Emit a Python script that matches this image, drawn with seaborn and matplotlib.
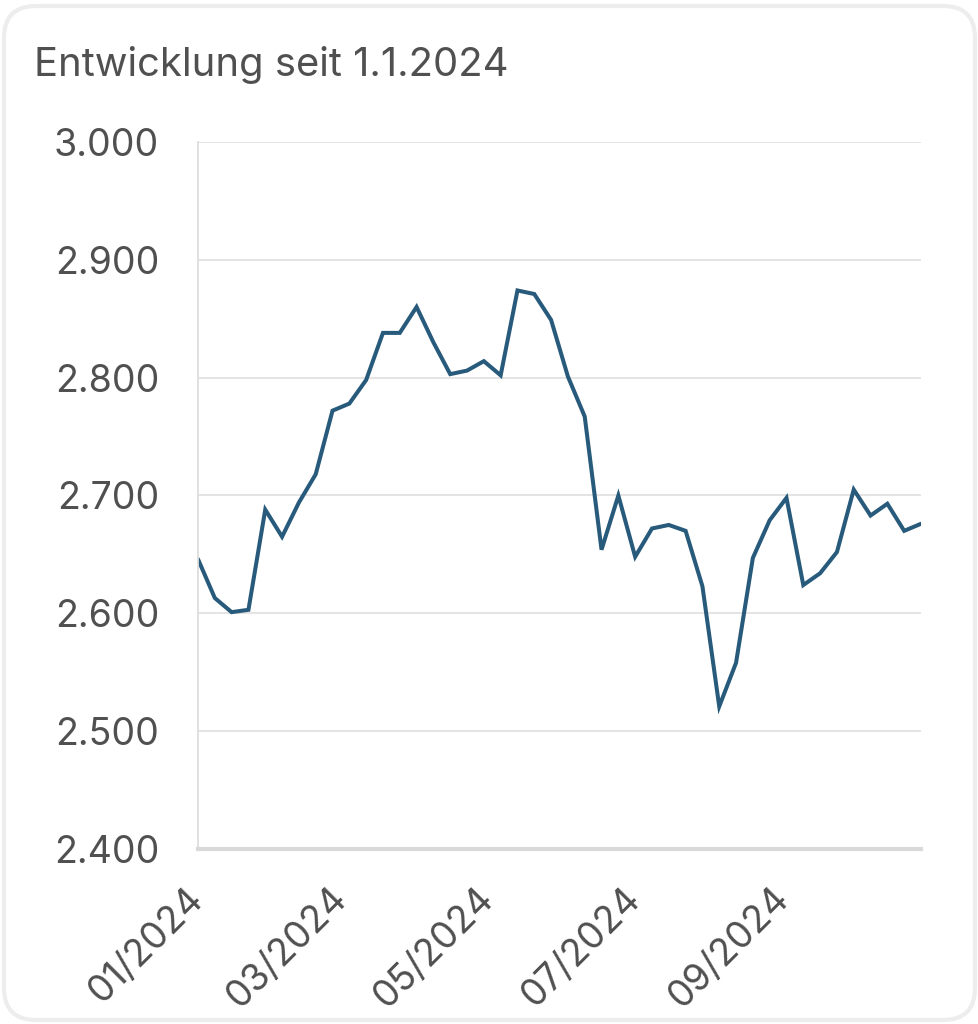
import matplotlib
matplotlib.use("Agg")
import matplotlib.pyplot as plt
import matplotlib.dates as mdates
from matplotlib.patches import FancyBboxPatch
from matplotlib.ticker import FuncFormatter
import seaborn as sns
import pandas as pd

# ---- data ----
start_date = "2024-01-01"
n_weeks = 44
values = [2646, 2613, 2601, 2603, 2688, 2665, 2694, 2718, 2772, 2778,
          2798, 2838, 2838, 2860, 2830, 2803, 2806, 2814, 2802, 2874,
          2871, 2849, 2801, 2767, 2654, 2700, 2648, 2672, 2675, 2670,
          2623, 2521, 2558, 2647, 2679, 2698, 2624, 2634, 2652, 2705,
          2683, 2693, 2670, 2676]
y_ticks = [2400, 2500, 2600, 2700, 2800, 2900, 3000]
title = "Entwicklung seit 1.1.2024"

dates = pd.date_range(start_date, periods=n_weeks, freq="7D")
df = pd.DataFrame({"date": dates, "value": values})

sns.set_theme(style="white")
plt.rcParams["font.family"] = ["Inter", "DejaVu Sans"]

W, H = 979, 1024
fig = plt.figure(figsize=(W / 100, H / 100), dpi=100)
fig.patch.set_facecolor("white")

# card border
card = FancyBboxPatch((0.04, 0.04), 9.71, 10.14,
                      boxstyle="round,pad=0,rounding_size=0.32",
                      transform=fig.dpi_scale_trans,
                      facecolor="none", edgecolor="#ededed", linewidth=3.0,
                      zorder=-5)
fig.patches.append(card)

text_color = "#505050"
grid_color = "#e2e2e2"
axis_color = "#d9d9d9"

ax = fig.add_axes([198 / W, 1 - 849 / H, (921 - 198) / W, (849 - 142) / H])
ax.set_facecolor("none")

sns.lineplot(data=df, x="date", y="value", ax=ax, color="#285a7c",
             linewidth=2.9, solid_joinstyle="miter")

ax.set_xlim(dates[0], dates[-1])
ax.set_ylim(y_ticks[0], y_ticks[-1])
ax.set_yticks(y_ticks)
ax.yaxis.set_major_formatter(FuncFormatter(lambda v, p: f"{int(v):,}".replace(",", ".")))
ax.xaxis.set_major_locator(mdates.MonthLocator(bymonth=[1, 3, 5, 7, 9]))
ax.xaxis.set_major_formatter(mdates.DateFormatter("%m/%Y"))

ax.grid(axis="y", color=grid_color, linewidth=1.3)
ax.grid(axis="x", visible=False)

for s in ["top", "right"]:
    ax.spines[s].set_visible(False)
ax.spines["left"].set_color("#dddddd")
ax.spines["left"].set_linewidth(1.3)
ax.spines["bottom"].set_color(axis_color)
ax.spines["bottom"].set_linewidth(3.0)

ax.tick_params(axis="y", length=8, width=1.3, color=grid_color, pad=20,
               labelsize=27, labelcolor=text_color)
ax.tick_params(axis="x", length=6, width=4.0, color=axis_color, pad=26,
               labelsize=27, labelcolor=text_color)
for lab in ax.get_xticklabels():
    lab.set_rotation(45)
    lab.set_ha("right")
    lab.set_va("center")
    lab.set_rotation_mode("anchor")

ax.set_xlabel("")
ax.set_ylabel("")

fig.text(34 / W, 1 - 76 / H, title, fontsize=28.8, color=text_color,
         ha="left", va="baseline")

fig.savefig("out.png", dpi=100, facecolor="white")
